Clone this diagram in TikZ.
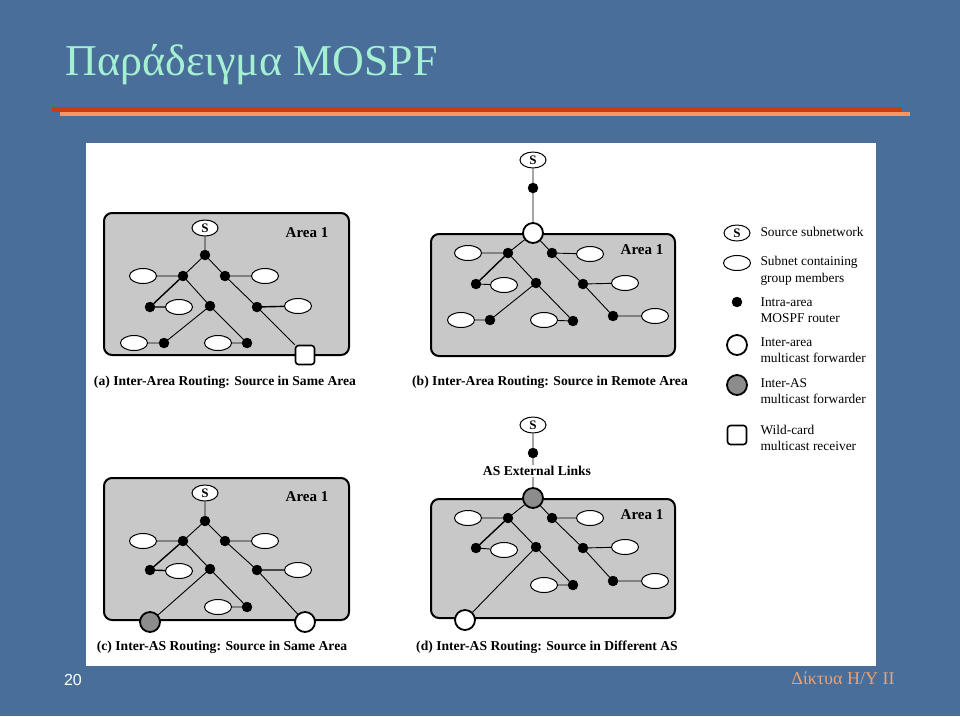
\documentclass[tikz,border=0pt]{standalone}
\usepackage{fontspec}
\setmainfont{Liberation Serif}
\newfontfamily\sansf{Liberation Sans}
\usetikzlibrary{shapes.geometric}
\definecolor{bgblue}{RGB}{74,110,154}
\definecolor{titlecol}{RGB}{165,240,210}
\definecolor{redline}{RGB}{200,60,20}
\definecolor{orline}{RGB}{245,150,100}
\definecolor{footcol}{RGB}{240,160,110}
\definecolor{areagray}{RGB}{200,200,200}
\definecolor{asgray}{RGB}{140,140,140}
\tikzset{
  rtr/.style={circle,fill=black,draw=black,minimum size=10pt,inner sep=0pt},
  subn/.style={ellipse,draw=black,fill=white,line width=1pt,minimum width=27pt,minimum height=15pt,inner sep=0pt},
  srcn/.style={ellipse,draw=black,fill=white,line width=1pt,minimum width=26pt,minimum height=16pt,inner sep=0pt,font=\bfseries\fontsize{13}{13}\selectfont},
  fwdw/.style={circle,draw=black,fill=white,line width=1.8pt,minimum size=20pt,inner sep=0pt},
  fwdg/.style={circle,draw=black,fill=asgray,line width=1.8pt,minimum size=20pt,inner sep=0pt},
  wcard/.style={rectangle,rounded corners=3pt,draw=black,fill=white,line width=1.6pt,minimum size=19pt,inner sep=0pt},
  areabox/.style={draw=black,fill=areagray,line width=2pt,rounded corners=8pt},
  arealbl/.style={font=\bfseries\fontsize{15}{15}\selectfont},
  capt/.style={font=\bfseries\fontsize{13.6}{14}\selectfont},
  legt/.style={font=\fontsize{13.4}{16.5}\selectfont,align=left,anchor=west},
  lnk/.style={draw=black,line width=0.9pt},
}
\begin{document}
\begin{tikzpicture}[x=1pt,y=-1pt]
\useasboundingbox (0,0) rectangle (960,716);
\fill[bgblue] (0,0) rectangle (960,716);
% title
\node[anchor=base west,text=titlecol,font=\fontsize{44}{44}\selectfont] (title) at (62,75) {Παράδειγμα MOSPF};
\fill[orline] (60,112) rectangle (910,116);
\fill[redline] (52,107) rectangle (902,112);
% white panel
\fill[white] (86,143) rectangle (876,666);
% footer
\node[text=white,font=\sansf\fontsize{16}{16}\selectfont] (pnum) at (73,680) {20};
\node[text=footcol,font=\fontsize{18}{18}\selectfont] (foot) at (843,678) {Δίκτυα Η/Υ ΙΙ};

% ================= panel (a)
\draw[areabox] (104,213) rectangle (349,355);
\node[arealbl] (aA) at (307,233) {Area 1};
\node[srcn] (aS) at (205,228) {S};
\node[rtr] (aR1) at (205,255) {};
\node[rtr] (aR2) at (183,276) {};
\node[rtr] (aR3) at (225,276) {};
\node[subn] (aE1) at (143,276) {};
\node[subn] (aE2) at (265,276) {};
\node[rtr] (aR4) at (150,307) {};
\node[subn] (aE3) at (179,307) {};
\node[rtr] (aR5) at (210,306) {};
\node[rtr] (aR6) at (257,307) {};
\node[subn] (aE4) at (298,306) {};
\node[subn] (aE5) at (134,343) {};
\node[rtr] (aR7) at (164,343) {};
\node[subn] (aE6) at (218,343) {};
\node[rtr] (aR8) at (247,343) {};
\node[wcard] (aW) at (305,355) {};
\draw[lnk] (aS)--(aR1) (aR1)--(aR2) (aR1)--(aR3) (aR2)--(aE1) (aR3)--(aE2)
  (aR5)--(aR7) (aR7)--(aE5) (aR5)--(aR8) (aR8)--(aE6) (aR2)--(aR5)
  (aR3)--(aR6) (aR6)--(aW);
\draw[lnk,line width=1.4pt] (aR2)--(aR4) (aR4)--(aE3) (aR6)--(aE4);
\node[capt] (aC) at (225,382) {(a) Inter-Area Routing: Source in Same Area};

% ================= panel (b)
\draw[areabox] (431,234) rectangle (675,356);
\node[arealbl] (bA) at (642,250) {Area 1};
\node[srcn] (bS) at (533,160) {S};
\node[rtr] (bRt) at (533,188) {};
\node[fwdw] (bF) at (533,233) {};
\node[rtr] (bR1) at (508,253) {};
\node[subn] (bE1) at (468,253) {};
\node[rtr] (bR2) at (552,253) {};
\node[subn] (bE2) at (590,254) {};
\node[rtr] (bR3) at (476,284) {};
\node[subn] (bE3) at (504,285) {};
\node[rtr] (bR4) at (536,283) {};
\node[rtr] (bR5) at (583,284) {};
\node[subn] (bE4) at (625,283) {};
\node[subn] (bE5) at (461,320) {};
\node[rtr] (bR6) at (490,320) {};
\node[subn] (bE6) at (544,320) {};
\node[rtr] (bR7) at (573,321) {};
\node[rtr] (bR8) at (613,316) {};
\node[subn] (bE7) at (655,316) {};
\draw[lnk] (bS)--(bRt) (bRt)--(bF) (bF)--(bR1) (bF)--(bR2) (bR1)--(bE1) (bR2)--(bE2)
  (bR3)--(bE3) (bR1)--(bR4) (bR4)--(bR6) (bR6)--(bE5) (bR4)--(bR7) (bR7)--(bE6)
  (bR2)--(bR5) (bR5)--(bE4) (bR5)--(bR8) (bR8)--(bE7);
\draw[lnk,line width=1.4pt] (bR1)--(bR3);
\node[capt] (bC) at (550,382) {(b) Inter-Area Routing: Source in Remote Area};

% ================= panel (c)
\draw[areabox] (104,478) rectangle (349,620);
\node[arealbl] (cA) at (307,497) {Area 1};
\node[srcn] (cS) at (205,493) {S};
\node[rtr] (cR1) at (205,521) {};
\node[rtr] (cR2) at (183,541) {};
\node[rtr] (cR3) at (225,541) {};
\node[subn] (cE1) at (143,541) {};
\node[subn] (cE2) at (265,541) {};
\node[rtr] (cR4) at (150,570) {};
\node[subn] (cE3) at (179,571) {};
\node[rtr] (cR5) at (210,569) {};
\node[rtr] (cR6) at (257,570) {};
\node[subn] (cE4) at (298,570) {};
\node[subn] (cE6) at (218,607) {};
\node[rtr] (cR8) at (247,607) {};
\node[fwdg] (cG) at (150,622) {};
\node[fwdw] (cW) at (305,622) {};
\draw[lnk] (cS)--(cR1) (cR1)--(cR2) (cR1)--(cR3) (cR2)--(cE1) (cR3)--(cE2)
  (cR2)--(cR5) (cR5)--(cG) (cR5)--(cR8) (cR8)--(cE6) (cR3)--(cR6) (cR6)--(cW);
\draw[lnk,line width=1.4pt] (cR2)--(cR4) (cR4)--(cE3) (cR6)--(cE4);
\node[capt] (cC) at (222,647) {(c) Inter-AS Routing: Source in Same Area};

% ================= panel (d)
\draw[areabox] (431,499) rectangle (675,618);
\node[arealbl] (dA) at (642,515) {Area 1};
\node[srcn] (dS) at (533,425) {S};
\node[rtr] (dRt) at (533,453) {};
\node[fwdg] (dG) at (533,498) {};
\node[rtr] (dR1) at (508,518) {};
\node[subn] (dE1) at (468,518) {};
\node[rtr] (dR2) at (552,518) {};
\node[subn] (dE2) at (590,518) {};
\node[rtr] (dR3) at (476,548) {};
\node[subn] (dE3) at (504,550) {};
\node[rtr] (dR4) at (536,547) {};
\node[rtr] (dR5) at (583,548) {};
\node[subn] (dE4) at (625,547) {};
\node[subn] (dE6) at (544,585) {};
\node[rtr] (dR7) at (573,585) {};
\node[rtr] (dR8) at (613,581) {};
\node[subn] (dE7) at (655,581) {};
\node[fwdw] (dW) at (465,620) {};
\draw[lnk] (dS)--(dRt) (dRt)--(dG) (dG)--(dR1) (dG)--(dR2) (dR1)--(dE1) (dR2)--(dE2)
  (dR3)--(dE3) (dR1)--(dR4) (dR4)--(dW) (dR4)--(dR7) (dR7)--(dE6)
  (dR2)--(dR5) (dR5)--(dE4) (dR5)--(dR8) (dR8)--(dE7);
\draw[lnk,line width=1.4pt] (dR1)--(dR3);
\node[capt,fill=white,inner sep=1pt] (dL) at (537,471) {AS External Links};
\node[capt] (dC) at (547,647) {(d) Inter-AS Routing: Source in Different AS};

% ================= legend
\node[srcn] (lS) at (737,233) {S};
\node[legt] (lSt) at (757,232) {Source subnetwork};
\node[subn] (lE) at (737,263) {};
\node[legt] (lEt) at (757,271) {Subnet containing\\group members};
\node[rtr] (lR) at (737,302) {};
\node[legt] (lRt) at (757,310) {Intra-area\\MOSPF router};
\node[fwdw] (lW) at (737,345) {};
\node[legt] (lWt) at (757,350) {Inter-area\\multicast forwarder};
\node[fwdg] (lG) at (737,385) {};
\node[legt] (lGt) at (757,391) {Inter-AS\\multicast forwarder};
\node[wcard] (lC) at (737,435) {};
\node[legt] (lCt) at (757,438) {Wild-card\\multicast receiver};
\end{tikzpicture}
\end{document}
